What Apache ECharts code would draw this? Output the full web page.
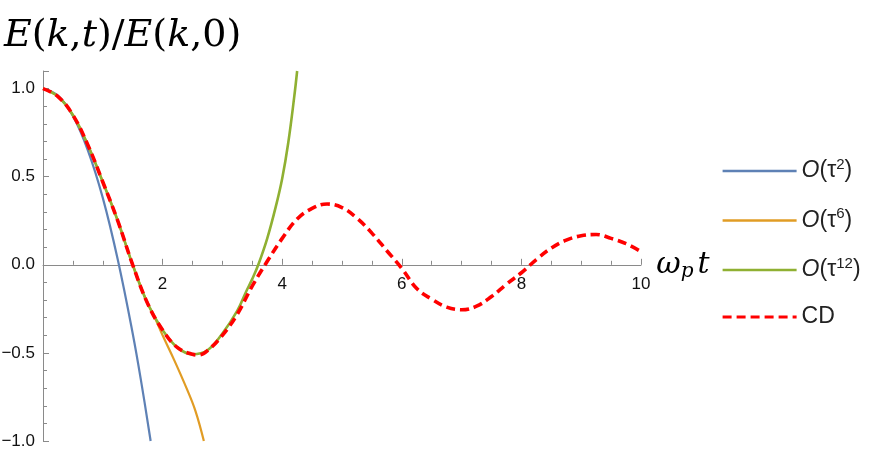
<!DOCTYPE html>
<html>
<head>
<meta charset="utf-8">
<script src="https://cdn.jsdelivr.net/npm/echarts@6/dist/echarts.min.js"></script>
<style>
  html, body { margin: 0; padding: 0; background: #fff; }
  #chart { width: 872px; height: 456px; }
</style>
</head>
<body>
<div id="chart"></div>
<script>
// omega_p t and E(k,t)/E(k,0)
var tTau2 = [0, 0.25, 0.5, 0.75, 1.0, 1.25, 1.5, 1.65, 1.8]
var tau2Vals = [1.0, 0.96, 0.845, 0.65, 0.38, 0.03, -0.39, -0.68, -1.0]

var tTau6 = [0, 0.25, 0.5, 0.75, 1.0, 1.25, 1.5, 1.75, 1.85, 2.0, 2.2, 2.4, 2.55, 2.69]
var tau6Vals = [1.0, 0.955, 0.85, 0.68, 0.47, 0.25, 0.0, -0.22, -0.285, -0.40, -0.545, -0.70, -0.83, -1.0]

var tTau12 = [0, 0.25, 0.5, 0.75, 1.0, 1.25, 1.5, 1.75, 2.0, 2.25, 2.5, 2.75, 3.0, 3.25, 3.4, 3.5, 3.6, 3.75, 3.9, 4.0, 4.1, 4.2, 4.25]
var tau12Vals = [1.0, 0.955, 0.85, 0.68, 0.47, 0.25, 0.0, -0.22, -0.37, -0.47, -0.508, -0.485, -0.39, -0.26, -0.15, -0.08, 0.0, 0.15, 0.34, 0.49, 0.69, 0.95, 1.1]

var tCD = [0, 0.25, 0.5, 0.75, 1.0, 1.25, 1.5, 1.75, 2.0, 2.25, 2.5, 2.6, 2.75, 3.0, 3.25, 3.5, 3.75,
  4.0, 4.25, 4.5, 4.75, 5.0, 5.25, 5.5, 5.75, 6.0, 6.25, 6.5, 6.75, 7.0, 7.25, 7.5, 7.75,
  8.0, 8.25, 8.5, 8.75, 9.0, 9.25, 9.5, 9.75, 10.0]
var cdVals = [1.0, 0.955, 0.85, 0.68, 0.47, 0.25, 0.0, -0.22, -0.37, -0.47, -0.508, -0.512, -0.487, -0.40, -0.28, -0.12, 0.02,
  0.15, 0.26, 0.32, 0.345, 0.325, 0.265, 0.18, 0.08, -0.02, -0.135, -0.195, -0.24, -0.255, -0.235, -0.18, -0.11,
  -0.045, 0.03, 0.095, 0.14, 0.165, 0.172, 0.15, 0.12, 0.075]

var yTickLabels = ['\u22121.0', '\u22120.5', '0.0', '0.5', '1.0']
var xTickLabels = ['2', '4', '6', '8', '10']

var legendLabels = {
  tau2: '{o|O}{n|(τ}{s|2}{n|)}',
  tau6: '{o|O}{n|(τ}{s|6}{n|)}',
  tau12: '{o|O}{n|(τ}{s|12}{n|)}',
  CD: '{n|CD}'
}

function pairs (xs, ys) {
  return xs.map(function (x, i) { return [x, ys[i]] })
}

var yMin = -1
var yMax = 1.1
var gridTop = 71
var gridBottom = 15
var plotHeight = 456 - gridTop - gridBottom
// x axis sits on y = 0; move the whole axis (line, ticks, labels) up from the grid bottom
var xAxisOffset = -plotHeight * (0 - yMin) / (yMax - yMin)

var axisGray = '#8a8a8a'
var chart = echarts.init(document.getElementById('chart'))

chart.setOption({
  animation: false,
  backgroundColor: '#fff',
  title: {
    text: '{i|E}{u|(}{i|k}{u|,}{i|t}{u|)/}{i|E}{u|(}{i|k}{u|,0)}',
    left: 4,
    top: 17,
    padding: 0,
    textStyle: {
      fontWeight: 'normal',
      rich: {
        i: { fontFamily: 'DejaVu Serif', fontStyle: 'italic', fontWeight: 'normal', fontSize: 38, color: '#000' },
        u: { fontFamily: 'DejaVu Serif', fontWeight: 'normal', fontSize: 38, color: '#000' }
      }
    }
  },
  grid: { left: 43, right: 231, top: gridTop, bottom: gridBottom, containLabel: false, outerBoundsMode: 'none' },
  legend: {
    orient: 'vertical',
    left: 716,
    top: 152,
    itemWidth: 74,
    itemHeight: 14,
    itemGap: 24,
    formatter: function (name) { return legendLabels[name] },
    itemStyle: { color: 'rgba(0,0,0,0)', borderWidth: 0, opacity: 0 },
    textStyle: {
      rich: {
        o: { fontFamily: 'Liberation Sans', fontStyle: 'italic', fontSize: 23, lineHeight: 28, color: '#222' },
        n: { fontFamily: 'Liberation Sans', fontSize: 23, lineHeight: 28, color: '#222' },
        s: { fontFamily: 'Liberation Sans', fontSize: 15, lineHeight: 28, verticalAlign: 'top', color: '#222' }
      }
    },
    data: [
      { name: 'tau2', lineStyle: { width: 2.5 } },
      { name: 'tau6', lineStyle: { width: 2.5 } },
      { name: 'tau12', lineStyle: { width: 2.5 } },
      { name: 'CD', lineStyle: { width: 3.2 } }
    ]
  },
  xAxis: {
    type: 'value',
    min: 0,
    max: 10,
    interval: 2,
    offset: xAxisOffset,
    name: '{w|ω}{p|p}{t|t}',
    nameLocation: 'end',
    nameGap: 0,
    nameTextStyle: {
      rich: {
        w: { fontFamily: 'DejaVu Serif', fontStyle: 'italic', fontSize: 30, color: '#000' },
        p: { fontFamily: 'DejaVu Serif', fontStyle: 'italic', fontSize: 20, color: '#000', padding: [14, 4, 0, 0] },
        t: { fontFamily: 'DejaVu Serif', fontStyle: 'italic', fontSize: 30, color: '#000' }
      }
    },
    axisLine: { onZero: false, lineStyle: { color: axisGray, width: 1 } },
    axisTick: { show: true, inside: true, length: 6, lineStyle: { color: axisGray, width: 1 } },
    minorTick: { show: true, splitNumber: 4, length: 4, lineStyle: { color: axisGray, width: 1 } },
    axisLabel: {
      fontFamily: 'Liberation Sans',
      fontSize: 17,
      color: '#111',
      margin: 11,
      formatter: function (v) {
        var i = Math.round(v / 2) - 1
        return (v > 0 && Math.abs(v - Math.round(v)) < 1e-6) ? xTickLabels[i] : ''
      }
    },
    splitLine: { show: false }
  },
  yAxis: [
    {
      type: 'value',
      position: 'left',
      min: yMin,
      max: yMax,
      interval: 0.5,
      axisLine: { show: true, onZero: false, lineStyle: { color: axisGray, width: 1 } },
      axisTick: { show: true, inside: true, length: 6, lineStyle: { color: axisGray, width: 1 } },
      axisLabel: {
        fontFamily: 'Liberation Sans',
        fontSize: 17,
        color: '#111',
        margin: 8,
        formatter: function (v) {
          var k = Math.round((v + 1) / 0.5)
          return Math.abs(v + 1 - k * 0.5) < 1e-6 ? yTickLabels[k] : ''
        }
      },
      splitLine: { show: false }
    },
    {
      type: 'value',
      position: 'left',
      offset: 0,
      min: yMin,
      max: yMax,
      interval: 0.1,
      axisLine: { show: false, onZero: false },
      axisTick: { show: true, inside: true, length: 4, lineStyle: { color: axisGray, width: 1 } },
      axisLabel: { show: false },
      splitLine: { show: false }
    }
  ],
  series: [
    {
      name: 'tau2',
      type: 'line',
      data: pairs(tTau2, tau2Vals),
      smooth: 0.4,
      symbol: 'none',
      lineStyle: { color: '#5E81B5', width: 2.2 },
      itemStyle: { color: '#5E81B5' }
    },
    {
      name: 'tau6',
      type: 'line',
      data: pairs(tTau6, tau6Vals),
      smooth: 0.4,
      symbol: 'none',
      lineStyle: { color: '#E19C24', width: 2.2 },
      itemStyle: { color: '#E19C24' }
    },
    {
      name: 'tau12',
      type: 'line',
      data: pairs(tTau12, tau12Vals),
      smooth: 0.4,
      symbol: 'none',
      lineStyle: { color: '#8FB032', width: 2.6 },
      itemStyle: { color: '#8FB032' }
    },
    {
      name: 'CD',
      type: 'line',
      data: pairs(tCD, cdVals),
      smooth: 0.4,
      symbol: 'none',
      lineStyle: { color: '#FF0000', width: 3.6, type: [9, 5] },
      itemStyle: { color: '#FF0000' }
    }
  ]
})
</script>
</body>
</html>
